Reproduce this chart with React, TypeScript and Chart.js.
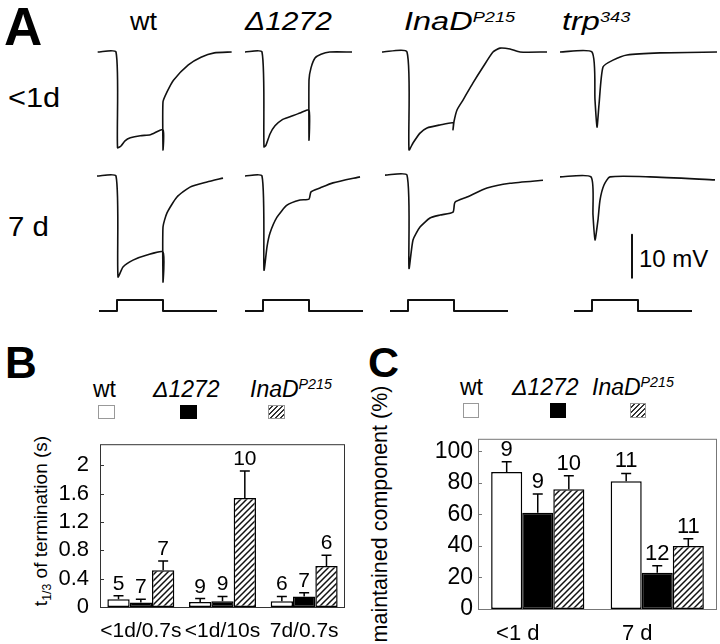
import React, { useEffect, useRef } from "react";
import { Chart, registerables } from "chart.js";

Chart.register(...registerables);

const FONT = "'Liberation Sans', Arial, Helvetica, sans-serif";

// ---------- Panel A: ERG traces, [time (s) from light onset, mV from baseline] ----------
const traceWtYoung: [number, number][] = [[-0.29, 0], [-0.015, 0], [0.008, -22.3], [0.06, -21.9], [0.12, -20.7], [0.2, -20.0], [0.35, -19.5], [0.5, -19.3], [0.69, -18.1], [0.69, -22.8], [0.69, -11.6], [0.75, -9.3], [0.85, -6.5], [1.07, -3.0], [1.26, -1.2], [1.46, -0.2], [1.72, 0]];
const traceDelYoung: [number, number][] = [[-0.27, 0], [-0.015, 0], [0.015, -22.1], [0.045, -21.7], [0.105, -19.1], [0.18, -17.2], [0.285, -15.8], [0.405, -15.1], [0.555, -14.2], [0.69, -13.5], [0.69, -20.5], [0.69, -6.5], [0.72, -3.7], [0.78, -1.4], [0.87, -0.5], [1.0, 0], [1.335, 0]];
const traceInadYoung: [number, number][] = [[-0.39, 0], [-0.015, 0], [0.015, -22.8], [0.075, -21.2], [0.18, -18.9], [0.285, -17.7], [0.48, -17.0], [0.675, -16.5], [0.675, -18.1], [0.69, -16.2], [0.735, -13.5], [0.825, -11.2], [0.975, -7.2], [1.125, -3.5], [1.275, 0], [1.38, 0.9], [1.53, 0.7], [1.68, 0], [2.085, 0]];
const traceTrpYoung: [number, number][] = [[-0.48, 0], [0, 0], [0.045, -11.2], [0.075, -17.5], [0.105, -12.3], [0.165, -3.5], [0.315, -1.9], [0.525, -0.7], [1.02, -0.2], [1.875, 0]];
const traceWtOld: [number, number][] = [[-0.3, 0], [-0.015, 0], [0.015, -23.5], [0.09, -21.2], [0.24, -19.6], [0.45, -18.4], [0.69, -17.7], [0.69, -24.7], [0.69, -11.9], [0.75, -8.6], [0.9, -4.9], [1.095, -2.6], [1.35, -1.4], [1.59, -0.5]];
const traceDelOld: [number, number][] = [[-0.27, 0], [-0.015, 0], [0.015, -21.9], [0.06, -16.5], [0.105, -13.3], [0.21, -9.6], [0.36, -6.8], [0.555, -5.6], [0.69, -5.4], [0.72, -3.7], [0.855, -2.8], [1.05, -1.6], [1.455, -0.2]];
const traceInadOld: [number, number][] = [[-0.345, 0.2], [-0.015, 0.2], [0.015, -21.5], [0.075, -14.9], [0.18, -11.9], [0.33, -9.8], [0.48, -9.1], [0.675, -8.4], [0.705, -6.1], [0.885, -4.9], [1.185, -2.8], [1.53, -1.7], [2.025, -1.0]];
const traceTrpOld: [number, number][] = [[-0.48, -0.2], [-0.015, -0.2], [0.015, -9.1], [0.045, -14.9], [0.09, -10.2], [0.12, -5.6], [0.18, -2.1], [0.27, -0.2], [0.87, -0.2], [1.845, -0.9]];
const stimulus: [number, number][] = [[-0.27, 0], [0, 0], [0, 1], [0.69, 1], [0.69, 0], [1.5, 0]];
const scaleBar: [number, number][] = [[0.6, -13.7], [0.6, -23.7]];
const scaleBarLabel = "10 mV";

const genotypes = ["wt", "Δ1272", "InaD", "trp"];
const ages = ["<1d", "7 d"];
const youngTraces = [traceWtYoung, traceDelYoung, traceInadYoung, traceTrpYoung];
const oldTraces = [traceWtOld, traceDelOld, traceInadOld, traceTrpOld];

// ---------- Panel B ----------
const groupsB = ["<1d/0.7s", "<1d/10s", "7d/0.7s"];
const wtB = [0.11, 0.07, 0.08];
const wtErrB = [0.05, 0.05, 0.07];
const wtNB = [5, 9, 6];
const delB = [0.065, 0.08, 0.15];
const delErrB = [0.045, 0.07, 0.05];
const delNB = [7, 9, 7];
const inadB = [0.52, 1.54, 0.58];
const inadErrB = [0.13, 0.38, 0.15];
const inadNB = [7, 10, 6];
const ticksB = [0, 0.4, 0.8, 1.2, 1.6, 2];
const tickLabelsB = ["0", "0.4", "0.8", "1.2", "1.6", "2"];

// ---------- Panel C ----------
const groupsC = ["<1 d", "7 d"];
const wtC = [87, 81];
const wtErrC = [6.5, 5];
const wtNC = [9, 11];
const delC = [61, 23];
const delErrC = [12, 4.5];
const delNC = [9, 12];
const inadC = [76, 40];
const inadErrC = [8.5, 4.5];
const inadNC = [10, 11];
const ticksC = [0, 20, 40, 60, 80, 100];
const tickLabelsC = ["0", "20", "40", "60", "80", "100"];

// ---------- layout constants ----------
const SPP = 0.015; // seconds per pixel
const MVPP = 0.233; // mV per pixel
const onsetX = [117, 263, 408, 592];
const rowBoxes = [
  { top: 36, height: 124, base: 52 },
  { top: 160, height: 130, base: 176 },
];
const stimBox = { top: 288, height: 32, base: 311, unitPx: 11 };

function makeHatch(): CanvasPattern | string {
  const s = 6;
  const c = document.createElement("canvas");
  c.width = s;
  c.height = s;
  const g = c.getContext("2d");
  if (!g) return "#888";
  g.fillStyle = "#fff";
  g.fillRect(0, 0, s, s);
  g.strokeStyle = "#111";
  g.lineWidth = 1.5;
  g.beginPath();
  g.moveTo(0, s);
  g.lineTo(s, 0);
  g.moveTo(-1, 1);
  g.lineTo(1, -1);
  g.moveTo(s - 1, s + 1);
  g.lineTo(s + 1, s - 1);
  g.stroke();
  return g.createPattern(c, "repeat") || "#888";
}

type Line = { points: [number, number][]; width: number; tension?: number };

function TraceChart(props: {
  left: number; top: number; width: number; height: number;
  xMin: number; xMax: number; yMin: number; yMax: number; lines: Line[];
}) {
  const ref = useRef<HTMLCanvasElement>(null);
  useEffect(() => {
    const chart = new Chart(ref.current as HTMLCanvasElement, {
      type: "scatter",
      data: {
        datasets: props.lines.map((l) => ({
          data: l.points.map(([x, y]) => ({ x, y })),
          showLine: true,
          borderColor: "#111",
          borderWidth: l.width,
          pointRadius: 0,
          tension: l.tension ?? 0,
          clip: false as any,
          fill: false,
          borderJoinStyle: "round" as const,
        })),
      },
      options: {
        animation: false,
        responsive: false,
        devicePixelRatio: 1,
        events: [],
        layout: { padding: 0 },
        plugins: { legend: { display: false }, tooltip: { enabled: false } },
        scales: {
          x: { type: "linear", display: false, min: props.xMin, max: props.xMax },
          y: { type: "linear", display: false, min: props.yMin, max: props.yMax },
        },
      },
    });
    return () => chart.destroy();
  }, []);
  return (
    <canvas
      ref={ref}
      width={props.width}
      height={props.height}
      style={{ position: "absolute", left: props.left, top: props.top, width: props.width, height: props.height }}
    />
  );
}

type Series = { values: number[]; errors: number[]; ns: number[]; kind: "white" | "black" | "hatch" };

function BarChart(props: {
  left: number; top: number; width: number; height: number;
  area: { left: number; right: number; top: number; bottom: number };
  categories: string[]; series: Series[]; yMax: number;
  tickValues: number[]; tickLabels: string[];
  catPct: number; labelOffset: number; frameColor: string; tickPad: number;
  tickFont: number; catFont: number; nFont: number;
}) {
  const ref = useRef<HTMLCanvasElement>(null);
  useEffect(() => {
    const hatch = makeHatch();
    const framePlugin = {
      id: "frame",
      afterDatasetsDraw(chart: any) {
        const { ctx, chartArea } = chart;
        const ys = chart.scales.y;
        ctx.save();
        ctx.strokeStyle = props.frameColor;
        ctx.lineWidth = 1;
        ctx.strokeRect(chartArea.left + 0.5, chartArea.top + 0.5, chartArea.right - chartArea.left - 1, chartArea.bottom - chartArea.top);
        ctx.beginPath();
        props.tickValues.forEach((v) => {
          const y = Math.round(ys.getPixelForValue(v)) + 0.5;
          ctx.moveTo(chartArea.left, y);
          ctx.lineTo(chartArea.left + 4, y);
        });
        ctx.stroke();
        ctx.restore();
      },
    };
    const errPlugin = {
      id: "errs",
      afterDatasetsDraw(chart: any) {
        const { ctx } = chart;
        const ys = chart.scales.y;
        ctx.save();
        ctx.strokeStyle = "#000";
        ctx.fillStyle = "#000";
        ctx.lineWidth = 1.5;
        ctx.font = `${props.nFont}px ${FONT}`;
        ctx.textAlign = "center";
        ctx.textBaseline = "alphabetic";
        chart.data.datasets.forEach((ds: any, d: number) => {
          const meta = chart.getDatasetMeta(d);
          meta.data.forEach((el: any, i: number) => {
            const x = el.x;
            const yTop = el.y;
            const yE = ys.getPixelForValue(ds.data[i] + ds.errors[i]);
            ctx.beginPath();
            ctx.moveTo(x, yTop);
            ctx.lineTo(x, yE);
            ctx.moveTo(x - 5, yE);
            ctx.lineTo(x + 5, yE);
            ctx.stroke();
            ctx.fillText(String(ds.ns[i]), x, yE - 6);
          });
        });
        ctx.restore();
      },
    };
    const fills: Record<string, any> = { white: "#fff", black: "#000", hatch };
    const chart = new Chart(ref.current as HTMLCanvasElement, {
      type: "bar",
      data: {
        labels: props.categories,
        datasets: props.series.map((s) => ({
          data: s.values,
          errors: s.errors,
          ns: s.ns,
          backgroundColor: fills[s.kind],
          borderColor: "#000",
          borderWidth: 1.5,
          borderSkipped: false,
          barPercentage: 1,
          categoryPercentage: props.catPct,
        })) as any,
      },
      options: {
        animation: false,
        responsive: false,
        devicePixelRatio: 1,
        events: [],
        layout: { padding: { top: props.area.top, right: props.width - props.area.right, left: 0, bottom: 0 } },
        plugins: { legend: { display: false }, tooltip: { enabled: false } },
        scales: {
          x: {
            grid: { display: false, drawTicks: false },
            border: { display: false },
            ticks: { font: { family: FONT, size: props.catFont }, color: "#000", padding: 12, labelOffset: props.labelOffset, maxRotation: 0, autoSkip: false },
            afterFit: (s: any) => { s.height = props.height - props.area.bottom; },
          },
          y: {
            min: 0,
            max: props.yMax,
            grid: { display: false, drawTicks: false },
            border: { display: false },
            ticks: {
              font: { family: FONT, size: props.tickFont },
              color: "#000",
              padding: props.tickPad,
              callback: (v: any) => {
                const k = props.tickValues.indexOf(Number(v));
                return k >= 0 ? props.tickLabels[k] : "";
              },
            },
            afterBuildTicks: (s: any) => { s.ticks = props.tickValues.map((v) => ({ value: v })); },
            afterFit: (s: any) => { s.width = props.area.left; },
          },
        },
      },
      plugins: [framePlugin, errPlugin],
    });
    return () => chart.destroy();
  }, []);
  return (
    <canvas
      ref={ref}
      width={props.width}
      height={props.height}
      style={{ position: "absolute", left: props.left, top: props.top, width: props.width, height: props.height }}
    />
  );
}

function Txt(props: { x: number; y: number; size: number; bold?: boolean; italic?: boolean; sx?: number; children: React.ReactNode }) {
  return (
    <div
      style={{
        position: "absolute",
        left: props.x,
        top: props.y - 0.8465 * props.size,
        fontSize: props.size,
        lineHeight: `${props.size}px`,
        fontWeight: props.bold ? 700 : 400,
        fontStyle: props.italic ? "italic" : "normal",
        whiteSpace: "nowrap",
        transform: props.sx ? `scaleX(${props.sx})` : undefined,
        transformOrigin: "left center",
      }}
    >
      {props.children}
    </div>
  );
}

function Sup(props: { children: React.ReactNode; size?: number }) {
  return (
    <span style={{ fontSize: props.size ?? "0.62em", position: "relative", top: "-0.55em" }}>{props.children}</span>
  );
}

function Box(props: { x: number; y: number; w: number; h: number; kind: "white" | "black" | "hatch" }) {
  const bg =
    props.kind === "white" ? "#fff" : props.kind === "black" ? "#000" :
      "repeating-linear-gradient(135deg, #fff 0px, #fff 2px, #333 2px, #333 3.5px)";
  return (
    <div
      style={{
        position: "absolute", left: props.x, top: props.y, width: props.w, height: props.h,
        background: bg, boxSizing: "border-box",
        border: props.kind === "black" ? "1px solid #000" : "1px solid #999",
      }}
    />
  );
}

function Legend(props: { labelY: number; labelX: number[]; boxX: number[]; boxY: number; boxW: number; boxH: number; size: number }) {
  const kinds: ("white" | "black" | "hatch")[] = ["white", "black", "hatch"];
  return (
    <>
      <Txt x={props.labelX[0]} y={props.labelY} size={props.size}>{genotypes[0]}</Txt>
      <Txt x={props.labelX[1]} y={props.labelY} size={props.size} italic>{genotypes[1]}</Txt>
      <Txt x={props.labelX[2]} y={props.labelY} size={props.size} italic>{genotypes[2]}<Sup>P215</Sup></Txt>
      {kinds.map((k, i) => (
        <Box key={k} x={props.boxX[i]} y={props.boxY} w={props.boxW} h={props.boxH} kind={k} />
      ))}
    </>
  );
}

function RotText(props: { cx: number; cy: number; size: number; children: React.ReactNode }) {
  return (
    <div
      style={{
        position: "absolute", left: props.cx, top: props.cy, fontSize: props.size, lineHeight: 1.1,
        whiteSpace: "nowrap", transform: "translate(-50%, -50%) rotate(-90deg)",
      }}
    >
      {props.children}
    </div>
  );
}

export default function App() {
  const cells: React.ReactNode[] = [];
  onsetX.forEach((ox, c) => {
    const left = ox - 40;
    const width = 185;
    const xMin = -40 * SPP;
    const xMax = 145 * SPP;
    [youngTraces[c], oldTraces[c]].forEach((tr, r) => {
      const rb = rowBoxes[r];
      const lines: Line[] = [{ points: tr, width: 1.6, tension: 0.2 }];
      if (r === 1 && c === 3) lines.push({ points: scaleBar, width: 2 });
      cells.push(
        <TraceChart key={`t${c}${r}`} left={left} top={rb.top} width={width} height={rb.height}
          xMin={xMin} xMax={xMax}
          yMin={-(rb.top + rb.height - rb.base) * MVPP} yMax={(rb.base - rb.top) * MVPP}
          lines={lines} />
      );
    });
    cells.push(
      <TraceChart key={`s${c}`} left={left} top={stimBox.top} width={width} height={stimBox.height}
        xMin={xMin} xMax={xMax}
        yMin={-(stimBox.top + stimBox.height - stimBox.base) / stimBox.unitPx}
        yMax={(stimBox.base - stimBox.top) / stimBox.unitPx}
        lines={[{ points: stimulus, width: 2 }]} />
    );
  });

  return (
    <div style={{ position: "absolute", left: 0, top: 0, width: 720, height: 644, background: "#fff", fontFamily: FONT, color: "#000", overflow: "hidden" }}>
      {/* Panel A */}
      <Txt x={4} y={45} size={53} bold>A</Txt>
      <Txt x={130} y={30} size={25} sx={1.08}>{genotypes[0]}</Txt>
      <Txt x={245} y={30} size={25} italic sx={1.2}>{genotypes[1]}</Txt>
      <Txt x={404} y={30} size={25} italic sx={1.3}>{genotypes[2]}<Sup size={14}>P215</Sup></Txt>
      <Txt x={562} y={30} size={25} italic sx={1.3}>{genotypes[3]}<Sup size={14}>343</Sup></Txt>
      <Txt x={8} y={108} size={28} sx={1.1}>{ages[0]}</Txt>
      <Txt x={8} y={237} size={28} sx={1.05}>{ages[1]}</Txt>
      <Txt x={639} y={267} size={24}>{scaleBarLabel}</Txt>
      {cells}

      {/* Panel B */}
      <Txt x={5} y={378} size={44} bold>B</Txt>
      <Legend labelY={397} labelX={[93, 153, 250]} boxX={[98, 180, 268]} boxY={405} boxW={17} boxH={14} size={23} />
      <RotText cx={41} cy={521} size={19}>
        t<span style={{ fontSize: "0.65em", position: "relative", top: "0.35em" }}>1/3</span> of termination (s)
      </RotText>
      <BarChart
        left={50} top={420} width={305} height={224}
        area={{ left: 50, right: 295, top: 10, bottom: 187 }}
        categories={groupsB}
        series={[
          { values: wtB, errors: wtErrB, ns: wtNB, kind: "white" },
          { values: delB, errors: delErrB, ns: delNB, kind: "black" },
          { values: inadB, errors: inadErrB, ns: inadNB, kind: "hatch" },
        ]}
        yMax={2.3} tickValues={ticksB} tickLabels={tickLabelsB}
        catPct={0.82} labelOffset={0} frameColor="#333" tickPad={11}
        tickFont={22} catFont={21} nFont={21}
      />

      {/* Panel C */}
      <Txt x={368} y={377} size={43} bold>C</Txt>
      <Legend labelY={395} labelX={[460, 512, 592]} boxX={[463, 550, 630]} boxY={403} boxW={16} boxH={15} size={23} />
      <RotText cx={381} cy={514} size={21.5}>maintained component (%)</RotText>
      <BarChart
        left={420} top={420} width={300} height={224}
        area={{ left: 58, right: 297, top: 12, bottom: 189 }}
        categories={groupsC}
        series={[
          { values: wtC, errors: wtErrC, ns: wtNC, kind: "white" },
          { values: delC, errors: delErrC, ns: delNC, kind: "black" },
          { values: inadC, errors: inadErrC, ns: inadNC, kind: "hatch" },
        ]}
        yMax={108} tickValues={ticksC} tickLabels={tickLabelsC}
        catPct={0.78} labelOffset={-20} frameColor="#777" tickPad={5}
        tickFont={23} catFont={22} nFont={22}
      />
    </div>
  );
}
